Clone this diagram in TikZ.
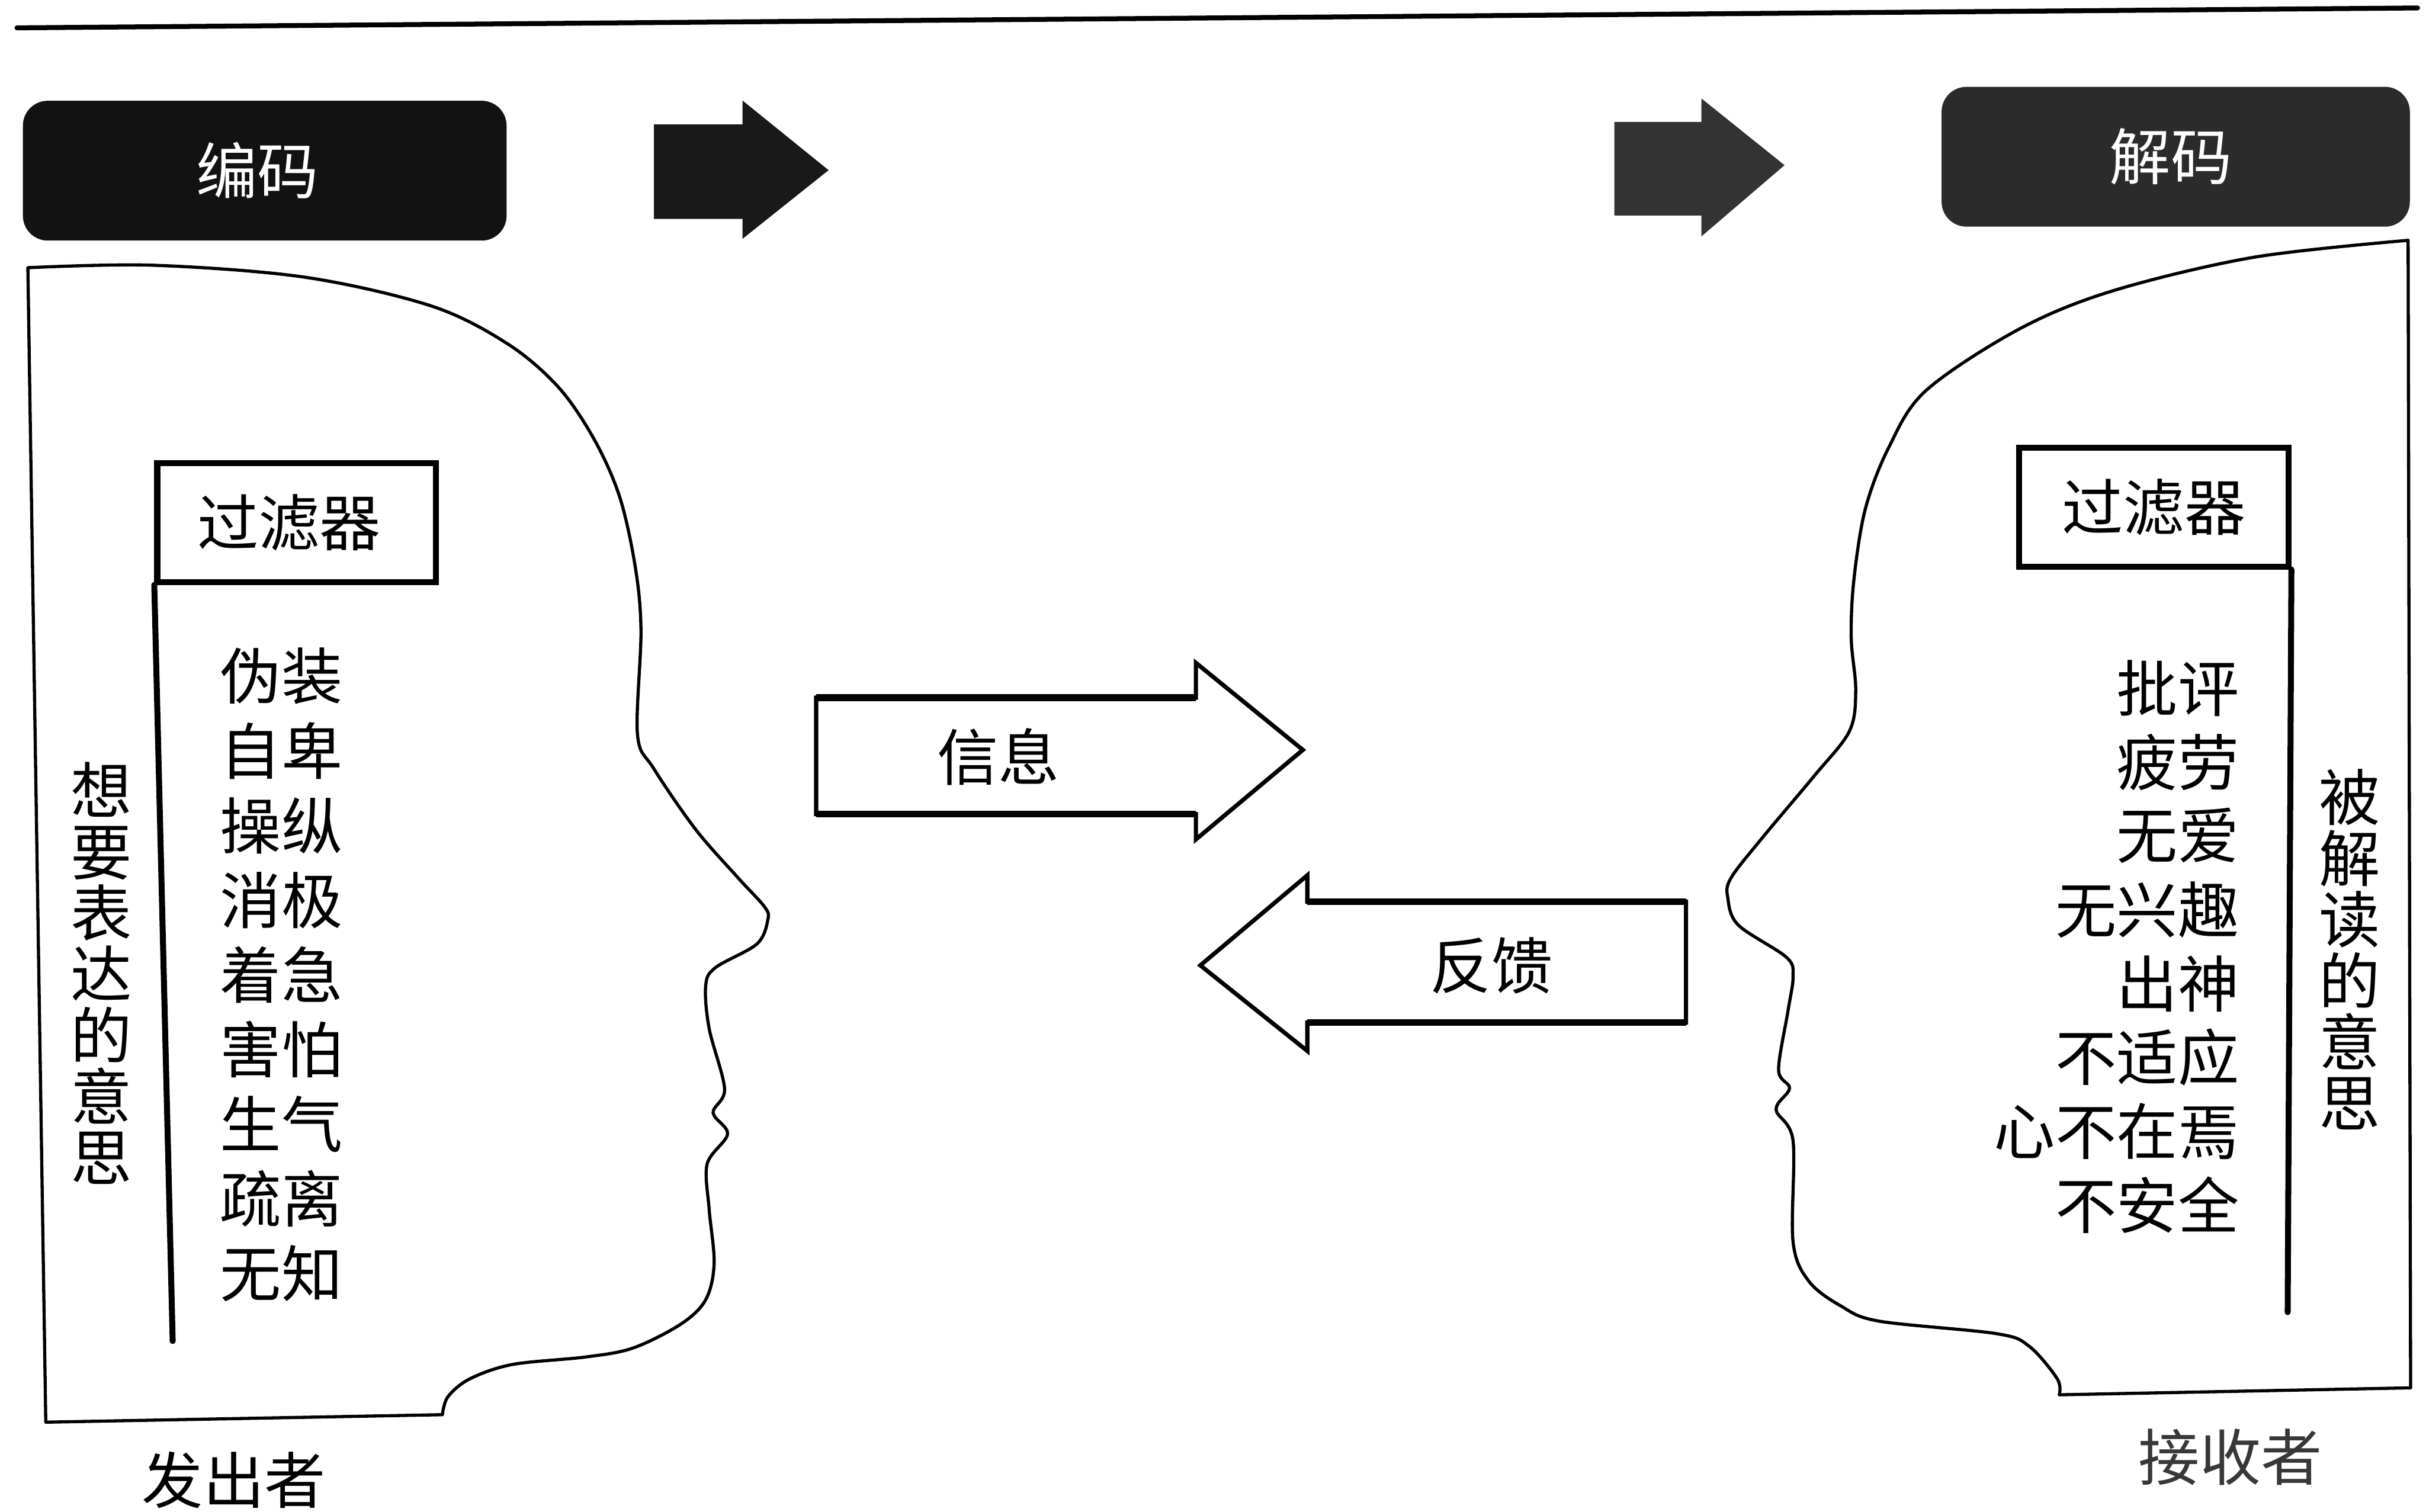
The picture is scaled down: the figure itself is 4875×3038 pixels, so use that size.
\documentclass[tikz,border=0pt]{standalone}
\usepackage{fontspec}
\setmainfont{Noto Sans CJK SC}
\begin{document}
\begin{tikzpicture}[x=0.1mm,y=-0.1mm,
  outline/.style={line width=1.8pt, line join=round, line cap=round},
  txt/.style={font=\fontsize{35pt}{42pt}\selectfont, inner sep=0pt},
  vstack/.style={font=\fontsize{35pt}{35pt}\selectfont, align=center, inner sep=0pt},
  codebox/.style={rounded corners=5mm, minimum height=28.1mm, inner sep=0pt, text=white,
    font=\fontsize{35pt}{42pt}\selectfont},
  filterbox/.style={draw, line width=3.4pt, minimum height=23.9mm, inner sep=0pt,
    font=\fontsize{35pt}{42pt}\selectfont},
  bracket/.style={line width=3.4pt, line cap=round},
  hollow/.style={line width=2.4pt, line join=miter},
  shaftedge/.style={line width=3.8pt},
]
\useasboundingbox (0,0) rectangle (4875,3038);
\fill[white] (0,0) rectangle (4875,3038);

% rule across the top
\draw[line width=2.8pt, line cap=round] (34,56) -- (4858,16);

% encoding / decoding labels and their solid arrows
\node[codebox, fill=black!93, minimum width=97.2mm] (enc) at (532,343) {编码\hspace*{3mm}};
\node[codebox, fill=black!83, minimum width=94.1mm] (dec) at (4372,315) {解码\hspace*{2mm}};
\fill[black!90] (1314,250) -- (1492,250) -- (1492,202) -- (1665,342) -- (1492,480) -- (1492,440) -- (1314,440) -- cycle;
\fill[black!80] (3244,245) -- (3419,245) -- (3419,198) -- (3586,332) -- (3419,475) -- (3419,433) -- (3244,433) -- cycle;

% sender's head
\draw[outline] (92,2858) -- (56,538) -- plot[smooth, tension=0.55] coordinates {
  (56,538) (306,533) (612,557) (867,615) (1020,691) (1122,778) (1194,883)
  (1245,998) (1276,1136) (1288,1266) (1281,1476) (1314,1545) (1398,1667)
  (1483,1764) (1536,1822) (1543,1848) (1521,1897) (1437,1945) (1418,1982)
  (1425,2067) (1456,2188) (1433,2236) (1462,2279) (1421,2339) (1425,2430)
  (1435,2539) (1418,2612) (1368,2661) (1272,2709) (1177,2727) (1030,2742)
  (944,2771) (900,2807) (889,2843)} -- cycle;

% receiver's head
\draw[outline] (4844,2789) -- (4839,483) -- plot[smooth, tension=0.55] coordinates {
  (4839,483) (4529,517) (4247,584) (4058,661) (3870,785) (3795,900)
  (3748,1024) (3725,1168) (3720,1283) (3729,1388) (3716,1470) (3645,1560)
  (3541,1684) (3478,1765) (3472,1805) (3493,1859) (3590,1924) (3603,1963)
  (3593,2031) (3574,2150) (3596,2187) (3569,2230) (3603,2292) (3603,2495)
  (3635,2575) (3700,2625) (3776,2655) (4011,2680) (4077,2705) (4134,2771)
  (4138,2803)} -- cycle;

% filters
\node[filterbox, minimum width=56mm] (lf) at (596,1050) {过滤器\hspace*{3mm}};
\node[filterbox, minimum width=54.1mm] (rf) at (4328,1019) {过滤器};
\coordinate (lfend) at (347,2695);
\coordinate (rfend) at (4597,2637);
\draw[bracket] (lf.south west) -- (lfend);
\draw[bracket] (rf.south east) -- (rfend);

% filter contents
\foreach \w [count=\i] in {伪装,自卑,操纵,消极,着急,害怕,生气,疏离,无知}
  \node[txt, anchor=west] (lw\i) at (442,{1359+150*(\i-1)}) {\w};
\foreach \w [count=\i] in {批评,疲劳,无爱,无兴趣,出神,不适应,心不在焉,不安全}
  \node[txt, anchor=east] (rw\i) at (4500,{1383+148.4*(\i-1)}) {\w};

% meanings
\node[vstack] (meant) at (204,1956) {想\\要\\表\\达\\的\\意\\思};
\node[vstack] (read) at (4722,1908) {被\\解\\读\\的\\意\\思};

% message and feedback arrows
\draw[hollow] (1640,1402) -- (2403,1402) -- (2403,1332) -- (2618,1507) -- (2403,1687) -- (2403,1636) -- (1640,1636) -- cycle;
\draw[shaftedge] (1640,1402) -- (2403,1402) (1640,1636) -- (2403,1636);
\node[txt] (msg) at (2006,1521) {信息};

\draw[hollow] (3388,1812) -- (2627,1812) -- (2627,1759) -- (2412,1940) -- (2627,2112) -- (2627,2055) -- (3388,2055) -- cycle;
\draw[shaftedge] (3388,1812) -- (2627,1812) (3388,2055) -- (2627,2055);
\node[txt] (fb) at (2997,1940) {反馈};

% roles
\node[txt] (sender) at (470,2975) {发出者};
\node[txt, text=black!78] (receiver) at (4482,2928) {接收者};
\end{tikzpicture}
\end{document}
